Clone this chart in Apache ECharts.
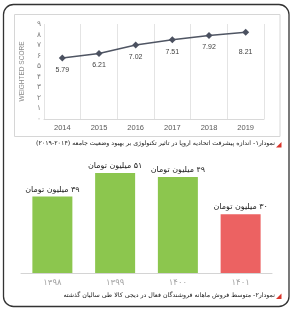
<!DOCTYPE html>
<html><head><meta charset="utf-8">
<script src="https://cdn.jsdelivr.net/npm/echarts@6/dist/echarts.min.js"></script>
<style>html,body{margin:0;padding:0;background:#fff}#c{width:292px;height:313px}</style>
</head><body><div id="c"></div>
<script>
// Chart 1 data
const years = ['2014','2015','2016','2017','2018','2019'];
const scores = [5.79, 6.21, 7.02, 7.51, 7.92, 8.21];
const yTickLabels = ['۰','۱','۲','۳','۴','۵','۶','۷','۸','۹'];
const yAxisName = 'WEIGHTED SCORE';
const caption1 = 'نمودار۱- اندازه پیشرفت اتحادیه اروپا در تاثیر تکنولوژی بر بهبود وضعیت جامعه (۲۰۱۴-۲۰۱۹)';
// Chart 2 data
const periods = ['۱۳۹۸','۱۳۹۹','۱۴۰۰','۱۴۰۱'];
const sales = [39, 51, 49, 30];
const salesLabels = ['۳۹ میلیون تومان','۵۱ میلیون تومان','۴۹ میلیون تومان','۳۰ میلیون تومان'];
const caption2 = 'نمودار۲- متوسط فروش ماهانه فروشندگان فعال در دیجی کالا طی سالیان گذشته';

const RTL = s => '\u202B' + s + '\u202C';
const green = '#8cc64e', red = '#ec6262';
const fa = 'DejaVu Sans, sans-serif';

const chart = echarts.init(document.getElementById('c'), null, {renderer:'canvas'});
chart.setOption({
  animation:false,
  backgroundColor:'#fff',
  title:[
    {text:RTL(caption1), right:17, top:140, padding:0,
     textStyle:{fontSize:6.3, fontWeight:'normal', color:'#1a1a1a', fontFamily:fa, width:300, overflow:'none'}},
    {text:RTL(caption2), right:17, top:292, padding:0,
     textStyle:{fontSize:6.3, fontWeight:'normal', color:'#1a1a1a', fontFamily:fa, width:300, overflow:'none'}}
  ],
  grid:[
    {left:44, top:24, width:220, height:95},
    {left:21, top:155.4, width:251, height:117.6}
  ],
  xAxis:[
    {gridIndex:0, type:'category', data:years, boundaryGap:true,
     axisLine:{lineStyle:{color:'#d9d9d9'}}, axisTick:{show:false},
     splitLine:{show:true, lineStyle:{color:'#e4e4e4'}},
     axisLabel:{fontSize:7.5, color:'#595959', margin:5, fontFamily:'Liberation Sans'}},
    {gridIndex:1, type:'category', data:periods,
     axisLine:{lineStyle:{color:'#d4d4d4'}}, axisTick:{show:false},
     axisLabel:{fontSize:8.5, color:'#a6a6a6', margin:5, fontFamily:fa}}
  ],
  yAxis:[
    {gridIndex:0, type:'value', min:0, max:9, interval:1,
     axisLine:{show:false}, axisTick:{show:false}, splitLine:{show:false},
     axisLabel:{fontSize:7.5, color:'#7f7f7f', margin:3, fontFamily:fa,
       formatter:(v)=>yTickLabels[Math.round(v)]},
     name:yAxisName, nameLocation:'middle', nameGap:13, nameRotate:90,
     nameTextStyle:{fontSize:6.5, color:'#8a8a8a', fontFamily:'Liberation Sans'}},
    {gridIndex:1, type:'value', min:0, max:60, show:false}
  ],
  series:[
    {type:'line', xAxisIndex:0, yAxisIndex:0,
     data:scores.map((v,i)=>({value:v, label:{distance: i===scores.length-1 ? 13 : 5}})),
     symbol:'diamond', symbolSize:7,
     itemStyle:{color:'#4b5160'}, lineStyle:{color:'#4f5563', width:1.5},
     label:{show:true, position:'bottom', fontSize:7, color:'#404040', fontFamily:'Liberation Sans',
       formatter:p=>p.value.toFixed(2)}},
    {type:'bar', xAxisIndex:1, yAxisIndex:1, barWidth:40,
     data:sales.map((v,i)=>({value:v, itemStyle:{color: i===3 ? red : green}})),
     label:{show:true, position:'top', distance:3, fontSize:8, color:'#222', fontFamily:fa,
       formatter:p=>RTL(salesLabels[p.dataIndex])}}
  ],
  graphic:[
    {type:'rect', silent:true, z:-1, shape:{x:3.5, y:4.5, width:285.5, height:302, r:10},
     style:{fill:'none', stroke:'#333', lineWidth:1.3}},
    {type:'rect', silent:true, z:-1, shape:{x:14.5, y:14.5, width:265.5, height:122},
     style:{fill:'none', stroke:'#d6d6d6', lineWidth:1}},
    {type:'polygon', shape:{points:[[276,147.5],[281.5,147.5],[281.5,142]]}, style:{fill:'#d9342b'}},
    {type:'polygon', shape:{points:[[276,299],[281.5,299],[281.5,293.5]]}, style:{fill:'#d9342b'}}
  ]
});
</script></body></html>
